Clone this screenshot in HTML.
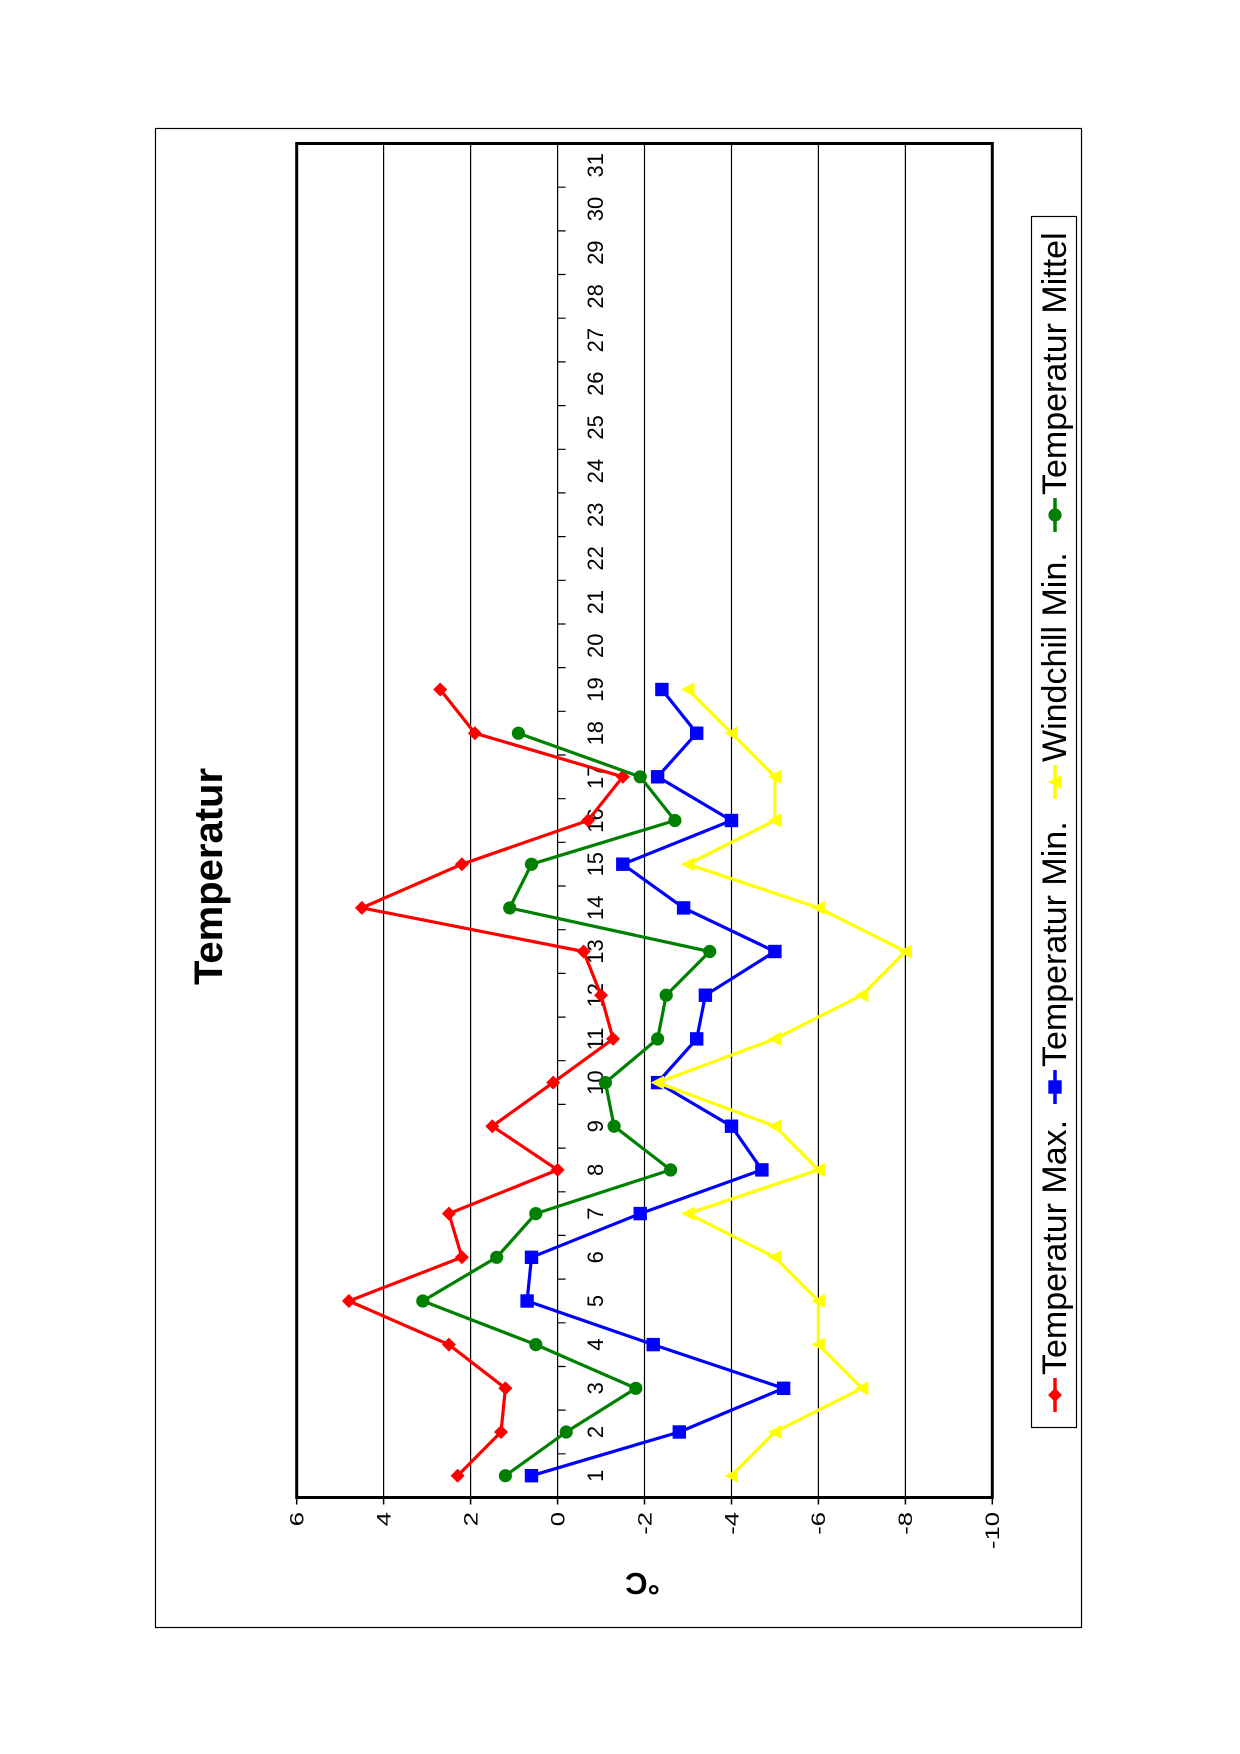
<!DOCTYPE html>
<html>
<head>
<meta charset="utf-8">
<style>
  html,body{margin:0;padding:0;background:#fff;}
  svg{display:block;}
  text{font-family:"Liberation Sans",Arial,sans-serif;fill:#000;}
</style>
</head>
<body>
<svg width="1240" height="1754" viewBox="0 0 1240 1754" xmlns="http://www.w3.org/2000/svg">
  <defs>
    <marker id="mDia" markerWidth="18" markerHeight="18" refX="9" refY="9" markerUnits="userSpaceOnUse">
      <path d="M9 2 L16 9 L9 16 L2 9 Z" fill="#ff0000"/>
    </marker>
    <marker id="mSq" markerWidth="18" markerHeight="18" refX="9" refY="9" markerUnits="userSpaceOnUse">
      <rect x="2.3" y="2.3" width="13.4" height="13.4" fill="#0000ff"/>
    </marker>
    <marker id="mTri" markerWidth="18" markerHeight="18" refX="9" refY="9" markerUnits="userSpaceOnUse">
      <path d="M2 9 L15.5 2 L15.5 16 Z" fill="#ffff00"/>
    </marker>
    <marker id="mCir" markerWidth="18" markerHeight="18" refX="9" refY="9" markerUnits="userSpaceOnUse">
      <circle cx="9" cy="9" r="6.6" fill="#008000"/>
    </marker>
  </defs>

  <rect x="0" y="0" width="1240" height="1754" fill="#fff"/>

  <!-- outer chart border -->
  <rect x="155.5" y="128.5" width="926" height="1499" fill="none" stroke="#000" stroke-width="1.2"/>

  <!-- title -->
  <text transform="translate(222,876.5) rotate(-90)" text-anchor="middle" font-size="40" font-weight="bold">Temperatur</text>

  <!-- gridlines -->
  <g stroke="#000" stroke-width="1.2">
    <line x1="383.6" y1="143.5" x2="383.6" y2="1497.5"/>
    <line x1="470.6" y1="143.5" x2="470.6" y2="1497.5"/>
    <line x1="644.5" y1="143.5" x2="644.5" y2="1497.5"/>
    <line x1="731.5" y1="143.5" x2="731.5" y2="1497.5"/>
    <line x1="818.4" y1="143.5" x2="818.4" y2="1497.5"/>
    <line x1="905.4" y1="143.5" x2="905.4" y2="1497.5"/>
    <!-- category axis at 0 -->
    <line x1="557.6" y1="143.5" x2="557.6" y2="1497.5"/>
  </g>

  <!-- category ticks -->
  <path stroke="#000" stroke-width="1.2" fill="none" d="
    M557.6 1453.8 h8 M557.6 1410.1 h8 M557.6 1366.5 h8 M557.6 1322.8 h8 M557.6 1279.1 h8
    M557.6 1235.4 h8 M557.6 1191.8 h8 M557.6 1148.1 h8 M557.6 1104.4 h8 M557.6 1060.7 h8
    M557.6 1017.1 h8 M557.6 973.4 h8 M557.6 929.7 h8 M557.6 886.0 h8 M557.6 842.3 h8
    M557.6 798.7 h8 M557.6 755.0 h8 M557.6 711.3 h8 M557.6 667.6 h8 M557.6 624.0 h8
    M557.6 580.3 h8 M557.6 536.6 h8 M557.6 492.9 h8 M557.6 449.3 h8 M557.6 405.6 h8
    M557.6 361.9 h8 M557.6 318.2 h8 M557.6 274.5 h8 M557.6 230.9 h8 M557.6 187.2 h8"/>

  <!-- value axis ticks -->
  <path stroke="#000" stroke-width="1.5" fill="none" d="
    M296.7 1497.5 v7 M383.6 1497.5 v7 M470.6 1497.5 v7 M557.6 1497.5 v7 M644.5 1497.5 v7
    M731.5 1497.5 v7 M818.4 1497.5 v7 M905.4 1497.5 v7 M992.3 1497.5 v7"/>

  <!-- plot frame -->
  <rect x="296.7" y="143.5" width="695.6" height="1354" fill="none" stroke="#000" stroke-width="3"/>

  <!-- category labels -->
  <g font-size="22" text-anchor="middle">
    <text transform="translate(603,1475.7) rotate(-90)">1</text>
    <text transform="translate(603,1432.0) rotate(-90)">2</text>
    <text transform="translate(603,1388.3) rotate(-90)">3</text>
    <text transform="translate(603,1344.6) rotate(-90)">4</text>
    <text transform="translate(603,1301.0) rotate(-90)">5</text>
    <text transform="translate(603,1257.3) rotate(-90)">6</text>
    <text transform="translate(603,1213.6) rotate(-90)">7</text>
    <text transform="translate(603,1169.9) rotate(-90)">8</text>
    <text transform="translate(603,1126.2) rotate(-90)">9</text>
    <text transform="translate(603,1082.6) rotate(-90)">10</text>
    <text transform="translate(603,1038.9) rotate(-90)">11</text>
    <text transform="translate(603,995.2) rotate(-90)">12</text>
    <text transform="translate(603,951.5) rotate(-90)">13</text>
    <text transform="translate(603,907.9) rotate(-90)">14</text>
    <text transform="translate(603,864.2) rotate(-90)">15</text>
    <text transform="translate(603,820.5) rotate(-90)">16</text>
    <text transform="translate(603,776.8) rotate(-90)">17</text>
    <text transform="translate(603,733.2) rotate(-90)">18</text>
    <text transform="translate(603,689.5) rotate(-90)">19</text>
    <text transform="translate(603,645.8) rotate(-90)">20</text>
    <text transform="translate(603,602.1) rotate(-90)">21</text>
    <text transform="translate(603,558.4) rotate(-90)">22</text>
    <text transform="translate(603,514.8) rotate(-90)">23</text>
    <text transform="translate(603,471.1) rotate(-90)">24</text>
    <text transform="translate(603,427.4) rotate(-90)">25</text>
    <text transform="translate(603,383.7) rotate(-90)">26</text>
    <text transform="translate(603,340.1) rotate(-90)">27</text>
    <text transform="translate(603,296.4) rotate(-90)">28</text>
    <text transform="translate(603,252.7) rotate(-90)">29</text>
    <text transform="translate(603,209.0) rotate(-90)">30</text>
    <text transform="translate(603,165.3) rotate(-90)">31</text>
  </g>

  <!-- value labels -->
  <g font-size="19" text-anchor="end">
    <text transform="translate(303.5,1512) rotate(-90) scale(1.35,1)">6</text>
    <text transform="translate(390.4,1512) rotate(-90) scale(1.35,1)">4</text>
    <text transform="translate(477.4,1512) rotate(-90) scale(1.35,1)">2</text>
    <text transform="translate(564.4,1512) rotate(-90) scale(1.35,1)">0</text>
    <text transform="translate(651.3,1512) rotate(-90) scale(1.35,1)">-2</text>
    <text transform="translate(738.3,1512) rotate(-90) scale(1.35,1)">-4</text>
    <text transform="translate(825.2,1512) rotate(-90) scale(1.35,1)">-6</text>
    <text transform="translate(912.2,1512) rotate(-90) scale(1.35,1)">-8</text>
    <text transform="translate(999.1,1512) rotate(-90) scale(1.35,1)">-10</text>
  </g>

  <!-- axis title °C (upside down) -->
  <text transform="translate(642.5,1573) rotate(180)" text-anchor="middle" font-size="31" font-weight="bold">°C</text>

  <!-- series -->
  <polyline fill="none" stroke="#ff0000" stroke-width="3.2" stroke-linejoin="round"
    marker-start="url(#mDia)" marker-mid="url(#mDia)" marker-end="url(#mDia)"
    points="457.6,1475.7 501.0,1432.0 505.4,1388.3 448.9,1344.6 348.9,1301.0 461.9,1257.3 448.9,1213.6 557.6,1169.9 492.3,1126.2 553.2,1082.6 613.1,1038.9 601.0,995.2 583.6,951.5 361.9,907.9 461.9,864.2 588.0,820.5 622.8,776.8 474.9,733.2 440.2,689.5"/>

  <polyline fill="none" stroke="#0000ff" stroke-width="3.2" stroke-linejoin="round"
    marker-start="url(#mSq)" marker-mid="url(#mSq)" marker-end="url(#mSq)"
    points="531.5,1475.7 679.3,1432.0 783.6,1388.3 653.2,1344.6 527.1,1301.0 531.5,1257.3 640.2,1213.6 761.9,1169.9 731.5,1126.2 657.6,1082.6 696.7,1038.9 705.4,995.2 774.9,951.5 683.6,907.9 622.8,864.2 731.5,820.5 657.6,776.8 696.7,733.2 661.9,689.5"/>

  <polyline fill="none" stroke="#ffff00" stroke-width="3.2" stroke-linejoin="round"
    marker-start="url(#mTri)" marker-mid="url(#mTri)" marker-end="url(#mTri)"
    points="731.5,1475.7 774.9,1432.0 861.9,1388.3 818.4,1344.6 818.4,1301.0 774.9,1257.3 688.0,1213.6 818.4,1169.9 774.9,1126.2 657.6,1082.6 774.9,1038.9 861.9,995.2 905.4,951.5 818.4,907.9 688.0,864.2 774.9,820.5 774.9,776.8 731.5,733.2 688.0,689.5"/>

  <polyline fill="none" stroke="#008000" stroke-width="3.2" stroke-linejoin="round"
    marker-start="url(#mCir)" marker-mid="url(#mCir)" marker-end="url(#mCir)"
    points="505.4,1475.7 566.2,1432.0 635.8,1388.3 535.8,1344.6 422.8,1301.0 496.7,1257.3 535.8,1213.6 670.6,1169.9 614.1,1126.2 605.4,1082.6 657.6,1038.9 666.2,995.2 709.7,951.5 509.7,907.9 531.5,864.2 674.9,820.5 640.2,776.8 518.4,733.2"/>

  <!-- legend -->
  <rect x="1031.5" y="216.5" width="45" height="1211" fill="#fff" stroke="#000" stroke-width="1.2"/>

  <line x1="1055" y1="1378" x2="1055" y2="1412" stroke="#ff0000" stroke-width="3.5"/>
  <path d="M1055 1388 L1062 1395 L1055 1402 L1048 1395 Z" fill="#ff0000"/>
  <text transform="translate(1066,1375) rotate(-90)" font-size="34">Temperatur Max.</text>

  <line x1="1055" y1="1070" x2="1055" y2="1104" stroke="#0000ff" stroke-width="3.5"/>
  <rect x="1048.3" y="1080.3" width="13.4" height="13.4" fill="#0000ff"/>
  <text transform="translate(1066,1067) rotate(-90)" font-size="34">Temperatur Min.</text>

  <line x1="1055" y1="765" x2="1055" y2="799" stroke="#ffff00" stroke-width="3.5"/>
  <path d="M1048 782 L1061.5 775 L1061.5 789 Z" fill="#ffff00"/>
  <text transform="translate(1066,762) rotate(-90)" font-size="34">Windchill Min.</text>

  <line x1="1055" y1="498" x2="1055" y2="532" stroke="#008000" stroke-width="3.5"/>
  <circle cx="1055" cy="515" r="6.6" fill="#008000"/>
  <text transform="translate(1066,495) rotate(-90)" font-size="34">Temperatur Mittel</text>
</svg>
</body>
</html>
